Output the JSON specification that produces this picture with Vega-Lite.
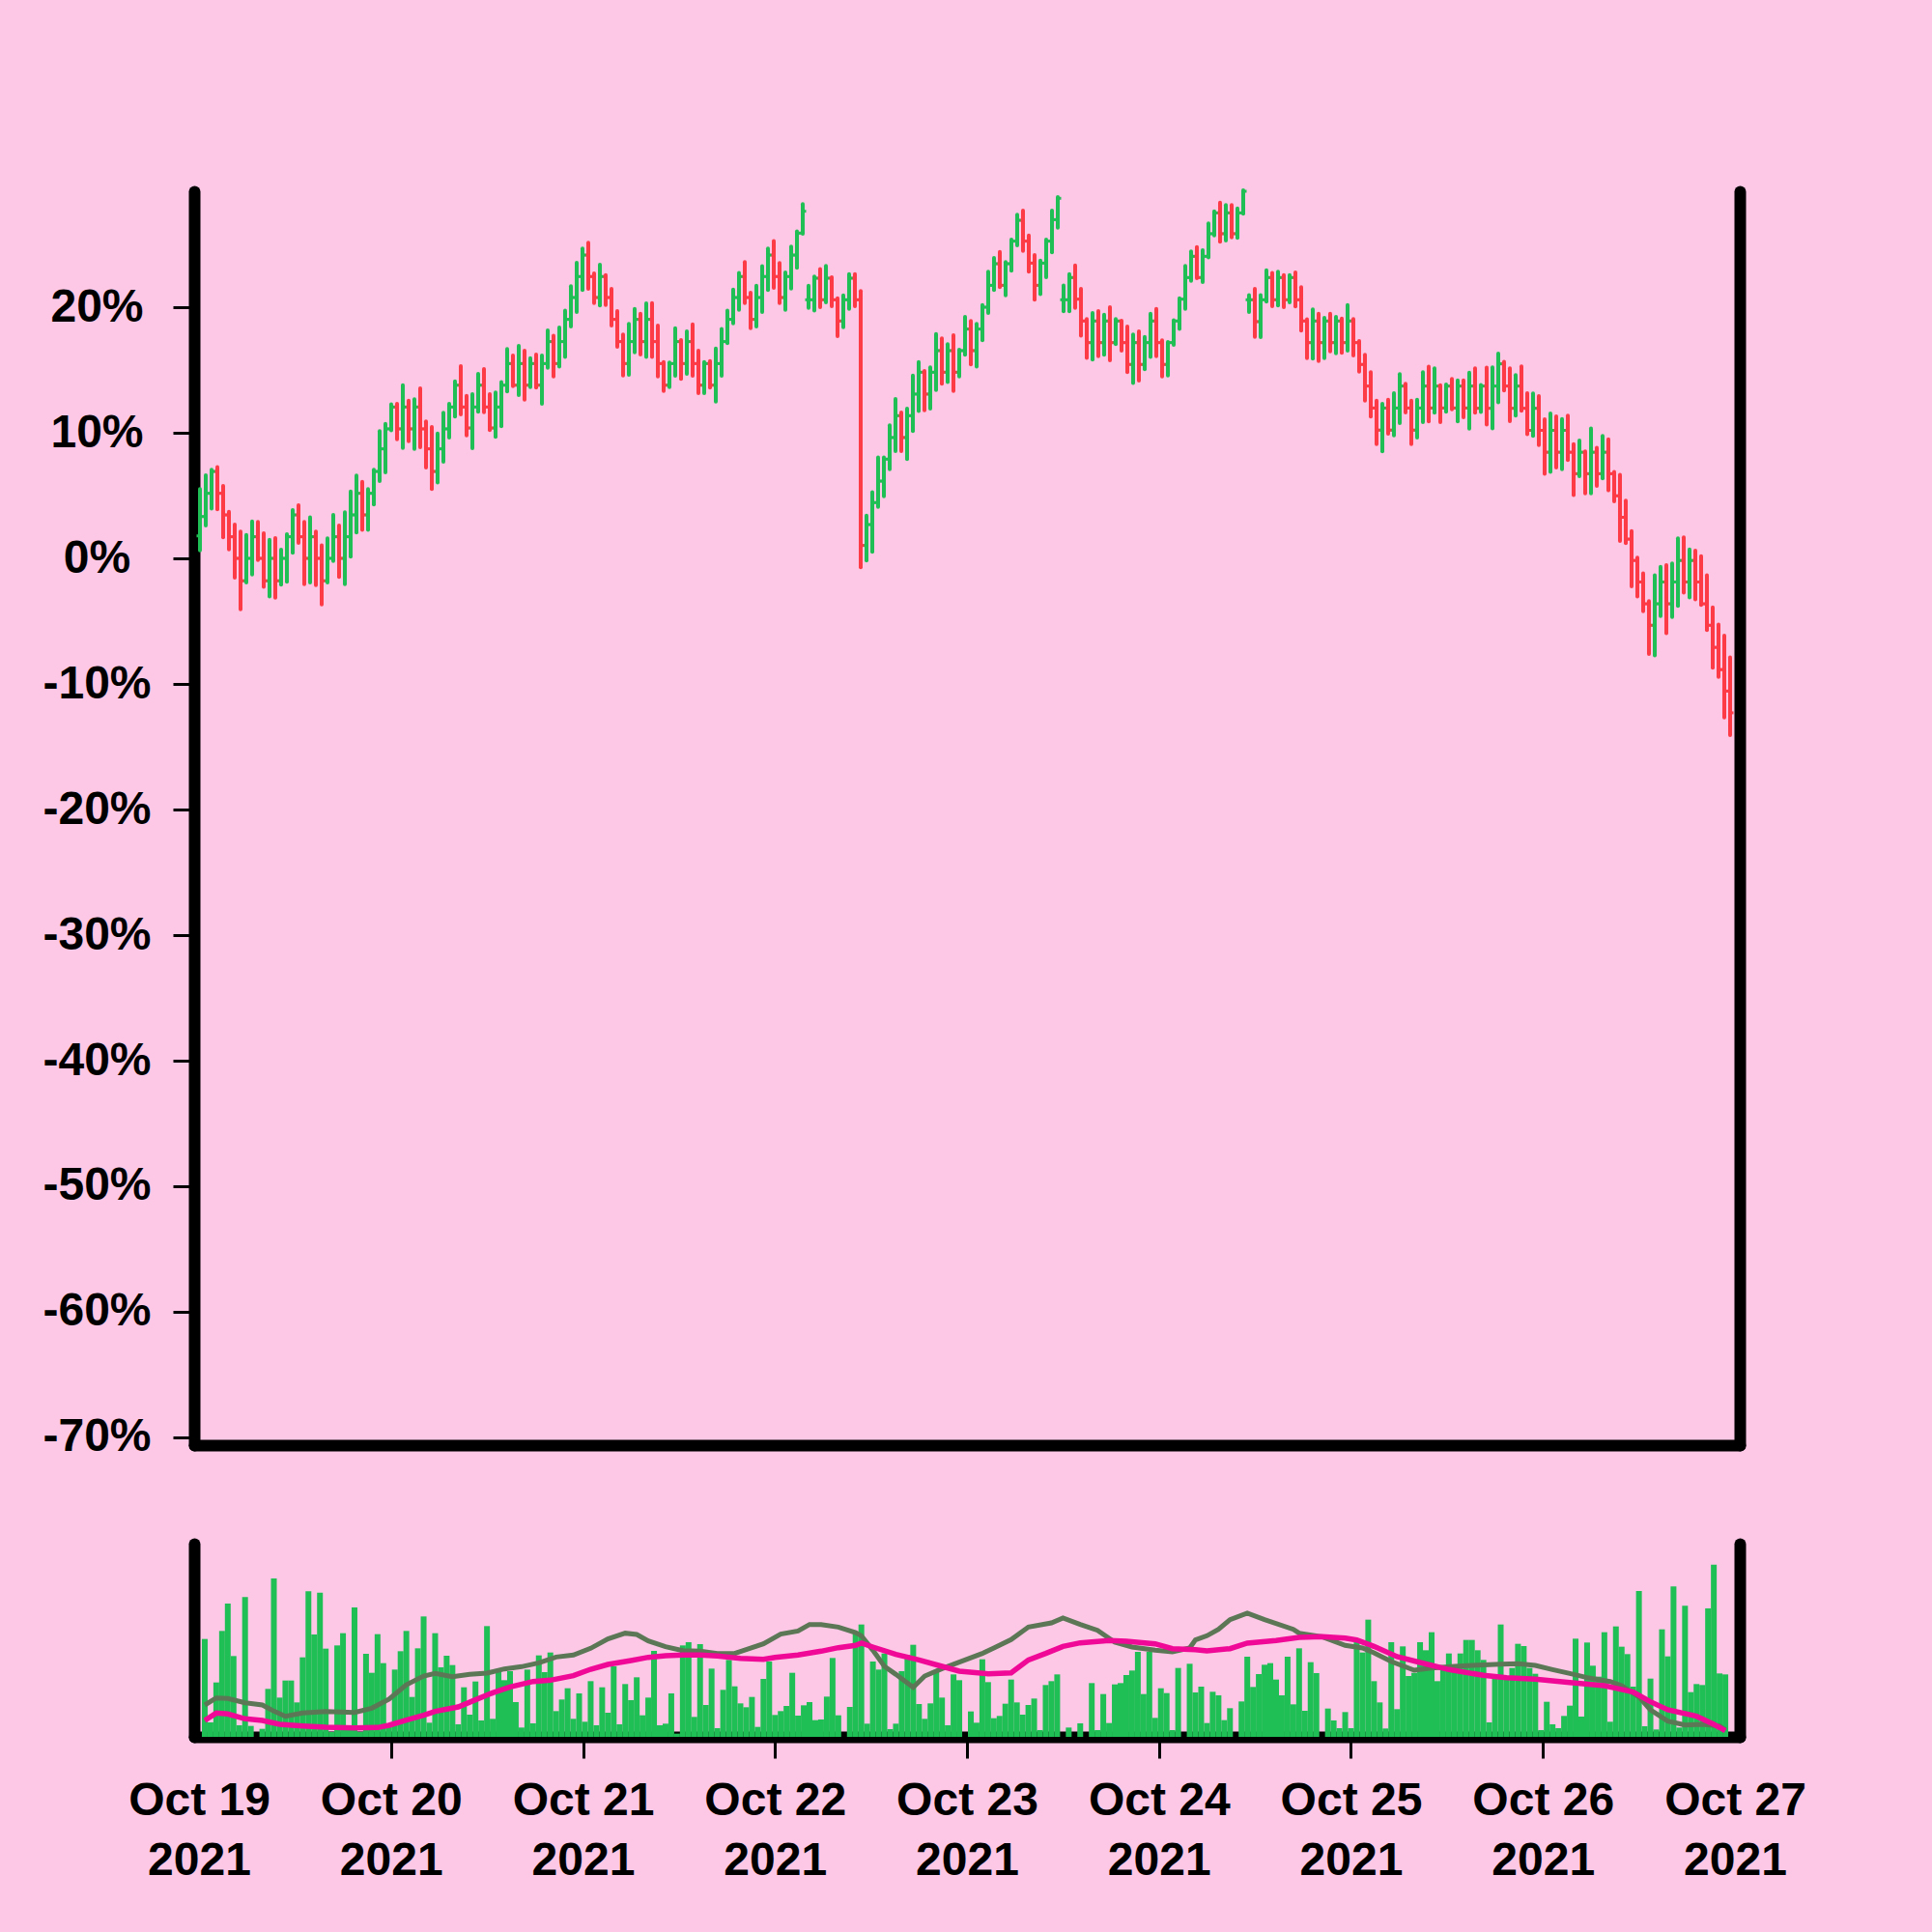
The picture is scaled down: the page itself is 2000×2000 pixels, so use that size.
{
"$schema": "https://vega.github.io/schema/vega-lite/v6.json",
"background": "#fcc8e6",
"padding": {"left": 43, "top": 194, "right": 131, "bottom": 52},
"bounds": "flush",
"spacing": 102,
"config": {
  "view": {"stroke": null},
  "font": "Liberation Sans",
  "axis": {"domainColor": "#000000", "domainWidth": 12, "domainCap": "round", "grid": false, "labelFont": "Liberation Sans", "labelFontWeight": "bold", "labelFontSize": 48, "labelColor": "#000000", "tickColor": "#000000", "tickWidth": 3, "tickSize": 22, "zindex": 1}
},
"datasets": {
"ohlc": [
{"i":1,"open":1.79,"high":5.51,"low":0.64,"close":3.33,"volume":304},
{"i":2,"open":3.33,"high":6.62,"low":2.62,"close":5.18,"volume":45},
{"i":3,"open":5.18,"high":7.05,"low":3.97,"close":6.92,"volume":169},
{"i":4,"open":6.92,"high":7.26,"low":3.9,"close":5.18,"volume":329},
{"i":5,"open":5.18,"high":5.77,"low":1.67,"close":3.46,"volume":414},
{"i":6,"open":3.46,"high":3.72,"low":0.72,"close":1.72,"volume":251},
{"i":7,"open":1.72,"high":2.69,"low":-1.54,"close":0,"volume":36},
{"i":8,"open":0,"high":2.13,"low":-4.05,"close":-1.79,"volume":434},
{"i":9,"open":-1.79,"high":1.87,"low":-1.92,"close":0,"volume":34},
{"i":10,"open":0,"high":2.95,"low":-1.28,"close":1.72,"volume":0},
{"i":11,"open":1.72,"high":2.9,"low":-0.13,"close":0,"volume":25},
{"i":12,"open":0,"high":2.0,"low":-2.26,"close":-1.79,"volume":149},
{"i":13,"open":-1.79,"high":1.49,"low":-3.03,"close":0,"volume":492},
{"i":14,"open":0,"high":1.62,"low":-3.13,"close":-1.79,"volume":122},
{"i":15,"open":-1.79,"high":0.69,"low":-2.1,"close":0,"volume":175},
{"i":16,"open":0,"high":1.92,"low":-1.87,"close":1.72,"volume":175},
{"i":17,"open":1.72,"high":3.85,"low":0.44,"close":3.46,"volume":107},
{"i":18,"open":3.46,"high":4.23,"low":1.23,"close":1.72,"volume":247},
{"i":19,"open":1.72,"high":2.9,"low":-2.05,"close":0,"volume":452},
{"i":20,"open":0,"high":3.26,"low":-1.92,"close":1.72,"volume":318},
{"i":21,"open":1.72,"high":2.13,"low":-2.13,"close":0,"volume":448},
{"i":22,"open":0,"high":1.03,"low":-3.67,"close":-1.79,"volume":274},
{"i":23,"open":-1.79,"high":1.59,"low":-1.92,"close":0,"volume":15},
{"i":24,"open":0,"high":3.46,"low":-0.21,"close":1.72,"volume":284},
{"i":25,"open":1.72,"high":2.62,"low":-1.49,"close":0,"volume":322},
{"i":26,"open":0,"high":3.67,"low":-2.05,"close":1.72,"volume":34},
{"i":27,"open":1.72,"high":5.33,"low":0.13,"close":3.46,"volume":402},
{"i":28,"open":3.46,"high":6.59,"low":2.05,"close":5.18,"volume":15},
{"i":29,"open":5.18,"high":6.1,"low":2.26,"close":3.46,"volume":258},
{"i":30,"open":3.46,"high":5.51,"low":2.26,"close":5.18,"volume":199},
{"i":31,"open":5.18,"high":7.05,"low":4.28,"close":6.92,"volume":319},
{"i":32,"open":6.92,"high":10.13,"low":6.15,"close":8.72,"volume":229},
{"i":33,"open":8.72,"high":10.72,"low":6.85,"close":10.31,"volume":39},
{"i":34,"open":10.31,"high":12.26,"low":10.2,"close":12.05,"volume":209},
{"i":35,"open":12.05,"high":12.31,"low":9.49,"close":10.31,"volume":266},
{"i":36,"open":10.31,"high":13.79,"low":8.79,"close":12.05,"volume":329},
{"i":37,"open":12.05,"high":12.56,"low":9.33,"close":10.31,"volume":124},
{"i":38,"open":10.31,"high":12.67,"low":8.72,"close":12.05,"volume":275},
{"i":39,"open":12.05,"high":13.54,"low":8.85,"close":10.31,"volume":374},
{"i":40,"open":10.31,"high":10.9,"low":7.23,"close":8.72,"volume":44},
{"i":41,"open":8.72,"high":10.46,"low":5.51,"close":6.92,"volume":322},
{"i":42,"open":6.92,"high":9.95,"low":6.03,"close":8.72,"volume":216},
{"i":43,"open":8.72,"high":11.59,"low":7.69,"close":10.31,"volume":252},
{"i":44,"open":10.31,"high":12.31,"low":9.62,"close":12.05,"volume":223},
{"i":45,"open":12.05,"high":14.1,"low":11.28,"close":13.79,"volume":39},
{"i":46,"open":13.79,"high":15.31,"low":11.46,"close":12.05,"volume":154},
{"i":47,"open":12.05,"high":12.95,"low":9.79,"close":10.38,"volume":69},
{"i":48,"open":10.38,"high":13.08,"low":8.77,"close":12.05,"volume":172},
{"i":49,"open":12.05,"high":14.69,"low":11.67,"close":13.79,"volume":51},
{"i":50,"open":13.79,"high":15.08,"low":11.64,"close":12.05,"volume":344},
{"i":51,"open":12.05,"high":13.08,"low":10.21,"close":10.38,"volume":56},
{"i":52,"open":10.38,"high":13.21,"low":9.67,"close":12.05,"volume":203},
{"i":53,"open":12.05,"high":14.03,"low":10.51,"close":13.79,"volume":176},
{"i":54,"open":13.79,"high":16.67,"low":13.28,"close":15.51,"volume":204},
{"i":55,"open":15.51,"high":16.15,"low":13.72,"close":13.79,"volume":108},
{"i":56,"open":13.79,"high":16.92,"low":13.0,"close":15.51,"volume":29},
{"i":57,"open":15.51,"high":16.54,"low":12.64,"close":13.79,"volume":209},
{"i":58,"open":13.79,"high":15.95,"low":13.64,"close":15.51,"volume":42},
{"i":59,"open":15.51,"high":16.23,"low":13.59,"close":13.79,"volume":253},
{"i":60,"open":13.79,"high":16.15,"low":12.31,"close":15.51,"volume":201},
{"i":61,"open":15.51,"high":18.15,"low":15.18,"close":17.26,"volume":262},
{"i":62,"open":17.26,"high":17.74,"low":14.49,"close":15.51,"volume":80},
{"i":63,"open":15.51,"high":18.38,"low":15.26,"close":17.26,"volume":116},
{"i":64,"open":17.26,"high":19.74,"low":16.03,"close":19.03,"volume":151},
{"i":65,"open":19.03,"high":21.67,"low":18.46,"close":20.77,"volume":56},
{"i":66,"open":20.77,"high":23.54,"low":19.62,"close":22.44,"volume":135},
{"i":67,"open":22.44,"high":24.67,"low":21.36,"close":24.15,"volume":47},
{"i":68,"open":24.15,"high":25.13,"low":21.46,"close":22.44,"volume":173},
{"i":69,"open":22.44,"high":22.69,"low":20.33,"close":20.77,"volume":36},
{"i":70,"open":20.77,"high":23.38,"low":20.13,"close":22.44,"volume":154},
{"i":71,"open":22.44,"high":22.56,"low":20.18,"close":20.77,"volume":75},
{"i":72,"open":20.77,"high":21.46,"low":18.54,"close":19.03,"volume":219},
{"i":73,"open":19.03,"high":19.69,"low":16.85,"close":17.26,"volume":39},
{"i":74,"open":17.26,"high":17.82,"low":14.56,"close":15.51,"volume":164},
{"i":75,"open":15.51,"high":18.67,"low":14.62,"close":17.26,"volume":114},
{"i":76,"open":17.26,"high":19.87,"low":16.41,"close":19.03,"volume":185},
{"i":77,"open":19.03,"high":19.49,"low":16.23,"close":17.26,"volume":67},
{"i":78,"open":17.26,"high":20.31,"low":16.03,"close":19.03,"volume":122},
{"i":79,"open":19.03,"high":20.33,"low":16.03,"close":17.26,"volume":267},
{"i":80,"open":17.26,"high":18.54,"low":14.49,"close":15.51,"volume":36},
{"i":81,"open":15.51,"high":15.64,"low":13.33,"close":13.79,"volume":41},
{"i":82,"open":13.79,"high":15.59,"low":13.64,"close":15.51,"volume":135},
{"i":83,"open":15.51,"high":18.33,"low":14.54,"close":17.26,"volume":10},
{"i":84,"open":17.26,"high":17.38,"low":14.28,"close":15.51,"volume":284},
{"i":85,"open":15.51,"high":18.08,"low":14.69,"close":17.26,"volume":294},
{"i":86,"open":17.26,"high":18.64,"low":14.54,"close":15.51,"volume":62},
{"i":87,"open":15.51,"high":16.54,"low":13.15,"close":13.79,"volume":288},
{"i":88,"open":13.79,"high":15.64,"low":13.15,"close":15.51,"volume":99},
{"i":89,"open":15.51,"high":15.72,"low":13.59,"close":13.79,"volume":212},
{"i":90,"open":13.79,"high":16.72,"low":12.49,"close":15.51,"volume":27},
{"i":91,"open":15.51,"high":18.26,"low":14.54,"close":17.26,"volume":146},
{"i":92,"open":17.26,"high":19.74,"low":17.13,"close":19.03,"volume":239},
{"i":93,"open":19.03,"high":21.41,"low":18.72,"close":20.77,"volume":157},
{"i":94,"open":20.77,"high":22.74,"low":19.79,"close":22.44,"volume":104},
{"i":95,"open":22.44,"high":23.59,"low":20.33,"close":20.77,"volume":92},
{"i":96,"open":20.77,"high":21.15,"low":18.33,"close":19.03,"volume":124},
{"i":97,"open":19.03,"high":21.72,"low":18.46,"close":20.77,"volume":31},
{"i":98,"open":20.77,"high":23.26,"low":19.62,"close":22.44,"volume":180},
{"i":99,"open":22.44,"high":24.67,"low":21.36,"close":24.15,"volume":234},
{"i":100,"open":24.15,"high":25.26,"low":21.54,"close":22.44,"volume":68},
{"i":101,"open":22.44,"high":23.51,"low":20.33,"close":20.77,"volume":80},
{"i":102,"open":20.77,"high":22.77,"low":19.79,"close":22.44,"volume":96},
{"i":103,"open":22.44,"high":24.82,"low":21.49,"close":24.15,"volume":199},
{"i":104,"open":24.15,"high":26.03,"low":23.13,"close":25.9,"volume":66},
{"i":105,"open":25.9,"high":28.21,"low":25.85,"close":27.64,"volume":98},
{"i":106,"open":20.59,"high":21.72,"low":19.95,"close":20.59,"volume":108},
{"i":107,"open":20.59,"high":22.44,"low":19.74,"close":22.31,"volume":52},
{"i":108,"open":22.31,"high":23.03,"low":20.0,"close":20.59,"volume":54},
{"i":109,"open":20.59,"high":23.28,"low":20.38,"close":22.31,"volume":125},
{"i":110,"open":22.31,"high":22.38,"low":20.08,"close":20.59,"volume":245},
{"i":111,"open":20.59,"high":20.72,"low":17.69,"close":18.9,"volume":67},
{"i":112,"open":18.9,"high":20.95,"low":18.41,"close":20.59,"volume":0},
{"i":113,"open":20.59,"high":22.64,"low":19.87,"close":22.31,"volume":93},
{"i":114,"open":22.31,"high":22.64,"low":20.08,"close":20.59,"volume":319},
{"i":115,"open":20.59,"high":21.28,"low":-0.72,"close":1.03,"volume":349},
{"i":116,"open":1.03,"high":3.41,"low":-0.18,"close":2.69,"volume":41},
{"i":117,"open":2.69,"high":5.26,"low":0.51,"close":4.44,"volume":234},
{"i":118,"open":4.44,"high":8.03,"low":4.1,"close":6.15,"volume":209},
{"i":119,"open":6.15,"high":8.03,"low":4.95,"close":7.9,"volume":259},
{"i":120,"open":7.9,"high":10.59,"low":7.1,"close":9.62,"volume":24},
{"i":121,"open":9.62,"high":12.69,"low":8.54,"close":11.36,"volume":41},
{"i":122,"open":11.36,"high":11.62,"low":8.54,"close":9.62,"volume":204},
{"i":123,"open":9.62,"high":11.92,"low":7.9,"close":11.36,"volume":254},
{"i":124,"open":11.36,"high":14.56,"low":10.13,"close":13.08,"volume":286},
{"i":125,"open":13.08,"high":15.64,"low":11.74,"close":14.82,"volume":102},
{"i":126,"open":14.82,"high":14.92,"low":11.79,"close":13.08,"volume":56},
{"i":127,"open":13.08,"high":15.21,"low":11.92,"close":14.82,"volume":104},
{"i":128,"open":14.82,"high":17.87,"low":13.41,"close":16.54,"volume":204},
{"i":129,"open":16.54,"high":17.51,"low":13.9,"close":14.82,"volume":122},
{"i":130,"open":14.82,"high":17.05,"low":14.03,"close":16.54,"volume":36},
{"i":131,"open":16.54,"high":17.77,"low":13.33,"close":14.82,"volume":194},
{"i":132,"open":14.82,"high":16.62,"low":14.49,"close":16.54,"volume":176},
{"i":133,"open":16.54,"high":19.23,"low":16.21,"close":18.26,"volume":0},
{"i":134,"open":18.26,"high":18.9,"low":15.44,"close":16.54,"volume":79},
{"i":135,"open":16.54,"high":18.67,"low":15.26,"close":18.26,"volume":44},
{"i":136,"open":18.26,"high":20.18,"low":17.36,"close":20.0,"volume":241},
{"i":137,"open":20.0,"high":22.82,"low":19.54,"close":21.74,"volume":170},
{"i":138,"open":21.74,"high":23.92,"low":21.36,"close":23.46,"volume":58},
{"i":139,"open":23.46,"high":24.41,"low":21.59,"close":21.74,"volume":65},
{"i":140,"open":21.74,"high":23.59,"low":20.95,"close":23.46,"volume":103},
{"i":141,"open":23.46,"high":25.38,"low":22.9,"close":25.26,"volume":178},
{"i":142,"open":25.26,"high":27.36,"low":24.92,"close":26.92,"volume":107},
{"i":143,"open":26.92,"high":27.69,"low":24.49,"close":25.26,"volume":69},
{"i":144,"open":25.26,"high":25.72,"low":22.82,"close":23.51,"volume":99},
{"i":145,"open":23.51,"high":24.15,"low":20.59,"close":21.74,"volume":119},
{"i":146,"open":21.74,"high":23.72,"low":21.03,"close":23.51,"volume":21},
{"i":147,"open":23.51,"high":25.38,"low":22.38,"close":25.26,"volume":161},
{"i":148,"open":25.26,"high":27.69,"low":24.36,"close":26.97,"volume":173},
{"i":149,"open":26.97,"high":28.77,"low":26.33,"close":28.67,"volume":194},
{"i":150,"open":20.59,"high":21.74,"low":19.67,"close":20.59,"volume":0},
{"i":151,"open":20.59,"high":22.64,"low":19.67,"close":22.36,"volume":29},
{"i":152,"open":22.36,"high":23.33,"low":19.95,"close":20.64,"volume":0},
{"i":153,"open":20.64,"high":21.46,"low":17.74,"close":18.9,"volume":42},
{"i":154,"open":18.9,"high":19.05,"low":15.97,"close":17.18,"volume":0},
{"i":155,"open":17.18,"high":19.54,"low":15.82,"close":18.9,"volume":167},
{"i":156,"open":18.9,"high":19.69,"low":16.1,"close":17.18,"volume":21},
{"i":157,"open":17.18,"high":19.41,"low":16.21,"close":18.9,"volume":133},
{"i":158,"open":18.9,"high":20.0,"low":15.77,"close":17.18,"volume":43},
{"i":159,"open":17.18,"high":19.05,"low":17.05,"close":18.9,"volume":163},
{"i":160,"open":18.9,"high":18.92,"low":16.54,"close":17.18,"volume":167},
{"i":161,"open":17.18,"high":18.46,"low":14.82,"close":15.44,"volume":192},
{"i":162,"open":15.44,"high":17.82,"low":13.97,"close":17.18,"volume":206},
{"i":163,"open":17.18,"high":18.08,"low":14.15,"close":15.44,"volume":264},
{"i":164,"open":15.44,"high":17.64,"low":15.05,"close":17.18,"volume":133},
{"i":165,"open":17.18,"high":19.49,"low":16.03,"close":18.9,"volume":264},
{"i":166,"open":18.9,"high":19.87,"low":16.1,"close":17.18,"volume":59},
{"i":167,"open":17.18,"high":17.36,"low":14.49,"close":15.44,"volume":151},
{"i":168,"open":15.44,"high":17.23,"low":14.56,"close":17.18,"volume":136},
{"i":169,"open":17.18,"high":18.97,"low":17.0,"close":18.9,"volume":21},
{"i":170,"open":18.9,"high":20.72,"low":18.26,"close":20.64,"volume":214},
{"i":171,"open":20.64,"high":23.28,"low":19.87,"close":22.36,"volume":0},
{"i":172,"open":22.36,"high":24.44,"low":22.1,"close":24.05,"volume":227},
{"i":173,"open":24.05,"high":24.79,"low":22.31,"close":22.36,"volume":138},
{"i":174,"open":22.36,"high":24.54,"low":22.0,"close":24.05,"volume":156},
{"i":175,"open":24.05,"high":26.67,"low":23.97,"close":25.85,"volume":43},
{"i":176,"open":25.85,"high":27.64,"low":25.72,"close":27.51,"volume":140},
{"i":177,"open":27.51,"high":28.33,"low":25.21,"close":25.85,"volume":129},
{"i":178,"open":25.85,"high":28.13,"low":25.31,"close":27.51,"volume":52},
{"i":179,"open":27.51,"high":28.13,"low":25.56,"close":25.85,"volume":89},
{"i":180,"open":25.85,"high":27.87,"low":25.51,"close":27.51,"volume":0},
{"i":181,"open":27.51,"high":29.31,"low":27.44,"close":29.23,"volume":110},
{"i":182,"open":20.59,"high":20.97,"low":19.62,"close":20.59,"volume":249},
{"i":183,"open":20.59,"high":21.46,"low":17.64,"close":18.85,"volume":155},
{"i":184,"open":18.85,"high":20.97,"low":17.62,"close":20.59,"volume":195},
{"i":185,"open":20.59,"high":22.95,"low":20.44,"close":22.36,"volume":224},
{"i":186,"open":22.36,"high":22.74,"low":20.08,"close":20.59,"volume":229},
{"i":187,"open":20.59,"high":22.82,"low":20.13,"close":22.36,"volume":178},
{"i":188,"open":22.36,"high":22.56,"low":20.0,"close":20.59,"volume":129},
{"i":189,"open":20.59,"high":22.56,"low":20.38,"close":22.36,"volume":249},
{"i":190,"open":22.36,"high":22.77,"low":20.05,"close":20.59,"volume":101},
{"i":191,"open":20.59,"high":21.59,"low":18.13,"close":18.9,"volume":275},
{"i":192,"open":18.9,"high":19.03,"low":15.95,"close":17.18,"volume":81},
{"i":193,"open":17.18,"high":19.82,"low":15.9,"close":18.9,"volume":232},
{"i":194,"open":18.9,"high":19.49,"low":15.72,"close":17.18,"volume":198},
{"i":195,"open":17.18,"high":19.15,"low":15.95,"close":18.9,"volume":0},
{"i":196,"open":18.9,"high":19.49,"low":16.49,"close":17.18,"volume":88},
{"i":197,"open":17.18,"high":19.23,"low":16.33,"close":18.9,"volume":51},
{"i":198,"open":18.9,"high":19.1,"low":16.36,"close":17.18,"volume":27},
{"i":199,"open":17.18,"high":20.18,"low":16.54,"close":18.9,"volume":77},
{"i":200,"open":18.9,"high":19.05,"low":16.15,"close":17.18,"volume":27},
{"i":201,"open":17.18,"high":17.31,"low":14.87,"close":15.44,"volume":304},
{"i":202,"open":15.44,"high":16.21,"low":12.56,"close":13.72,"volume":262},
{"i":203,"open":13.72,"high":14.82,"low":11.28,"close":11.97,"volume":364},
{"i":204,"open":11.97,"high":12.56,"low":9.1,"close":10.21,"volume":173},
{"i":205,"open":10.21,"high":12.31,"low":8.51,"close":11.97,"volume":107},
{"i":206,"open":11.97,"high":12.64,"low":9.92,"close":10.21,"volume":26},
{"i":207,"open":10.21,"high":13.15,"low":9.79,"close":11.97,"volume":294},
{"i":208,"open":11.97,"high":14.67,"low":10.77,"close":13.72,"volume":86},
{"i":209,"open":13.72,"high":13.9,"low":11.62,"close":11.97,"volume":281},
{"i":210,"open":11.97,"high":12.56,"low":9.1,"close":10.21,"volume":189},
{"i":211,"open":10.21,"high":12.64,"low":9.62,"close":11.97,"volume":199},
{"i":212,"open":11.97,"high":14.82,"low":10.85,"close":13.72,"volume":294},
{"i":213,"open":13.72,"high":15.26,"low":10.9,"close":11.97,"volume":269},
{"i":214,"open":11.97,"high":15.13,"low":11.59,"close":13.72,"volume":325},
{"i":215,"open":13.72,"high":13.79,"low":10.85,"close":11.97,"volume":173},
{"i":216,"open":11.97,"high":13.85,"low":11.67,"close":13.72,"volume":219},
{"i":217,"open":13.72,"high":14.28,"low":11.87,"close":11.97,"volume":259},
{"i":218,"open":11.97,"high":14.18,"low":10.9,"close":13.72,"volume":209},
{"i":219,"open":13.72,"high":14.18,"low":11.23,"close":11.97,"volume":259},
{"i":220,"open":11.97,"high":14.79,"low":10.33,"close":13.72,"volume":301},
{"i":221,"open":13.72,"high":15.13,"low":11.6,"close":11.95,"volume":301},
{"i":222,"open":11.95,"high":13.81,"low":11.66,"close":13.72,"volume":269},
{"i":223,"open":13.72,"high":15.19,"low":10.66,"close":11.95,"volume":239},
{"i":224,"open":11.95,"high":15.22,"low":10.34,"close":13.72,"volume":45},
{"i":225,"open":13.72,"high":16.31,"low":12.43,"close":15.49,"volume":189},
{"i":226,"open":15.49,"high":15.66,"low":13.37,"close":13.72,"volume":349},
{"i":227,"open":13.72,"high":15.13,"low":10.92,"close":11.95,"volume":189},
{"i":228,"open":11.95,"high":14.6,"low":11.37,"close":13.72,"volume":214},
{"i":229,"open":13.72,"high":15.28,"low":11.75,"close":11.95,"volume":289},
{"i":230,"open":11.95,"high":13.16,"low":9.89,"close":10.19,"volume":282},
{"i":231,"open":10.19,"high":13.13,"low":9.75,"close":11.95,"volume":214},
{"i":232,"open":11.95,"high":12.93,"low":9.01,"close":10.19,"volume":196},
{"i":233,"open":10.19,"high":11.07,"low":6.74,"close":8.45,"volume":21},
{"i":234,"open":8.45,"high":11.54,"low":6.89,"close":10.19,"volume":109},
{"i":235,"open":10.19,"high":11.31,"low":7.24,"close":8.45,"volume":39},
{"i":236,"open":8.45,"high":11.1,"low":7.1,"close":10.19,"volume":27},
{"i":237,"open":10.19,"high":11.37,"low":7.83,"close":8.45,"volume":65},
{"i":238,"open":8.45,"high":9.1,"low":5.04,"close":6.74,"volume":97},
{"i":239,"open":6.74,"high":9.39,"low":6.54,"close":8.45,"volume":305},
{"i":240,"open":8.45,"high":8.51,"low":5.18,"close":6.74,"volume":63},
{"i":241,"open":6.74,"high":10.34,"low":5.18,"close":8.45,"volume":293},
{"i":242,"open":8.45,"high":8.8,"low":5.77,"close":6.74,"volume":221},
{"i":243,"open":6.74,"high":9.75,"low":6.36,"close":8.45,"volume":187},
{"i":244,"open":8.45,"high":9.48,"low":5.42,"close":6.74,"volume":325},
{"i":245,"open":6.74,"high":6.89,"low":4.54,"close":4.98,"volume":47},
{"i":246,"open":4.98,"high":6.66,"low":1.39,"close":3.27,"volume":343},
{"i":247,"open":3.27,"high":4.6,"low":1.21,"close":1.53,"volume":280},
{"i":248,"open":1.53,"high":2.18,"low":-2.23,"close":-0.17,"volume":257},
{"i":249,"open":-0.17,"high":0.06,"low":-3.03,"close":-1.88,"volume":156},
{"i":250,"open":-1.88,"high":-1.2,"low":-4.21,"close":-3.62,"volume":453},
{"i":251,"open":-3.62,"high":-3.41,"low":-7.62,"close":-5.33,"volume":33},
{"i":252,"open":-5.33,"high":-1.35,"low":-7.74,"close":-3.62,"volume":181},
{"i":253,"open":-3.62,"high":-0.67,"low":-4.59,"close":-1.88,"volume":23},
{"i":254,"open":-1.88,"high":-0.53,"low":-5.97,"close":-3.62,"volume":334},
{"i":255,"open":-3.62,"high":-0.41,"low":-4.68,"close":-1.88,"volume":250},
{"i":256,"open":-1.88,"high":1.59,"low":-3.79,"close":-0.17,"volume":467},
{"i":257,"open":-0.17,"high":1.68,"low":-2.74,"close":-1.88,"volume":29},
{"i":258,"open":-1.88,"high":0.71,"low":-3.12,"close":-0.17,"volume":407},
{"i":259,"open":-0.17,"high":0.62,"low":-3.26,"close":-1.88,"volume":139},
{"i":260,"open":-1.88,"high":0.18,"low":-3.71,"close":-3.62,"volume":164},
{"i":261,"open":-3.62,"high":-1.35,"low":-5.71,"close":-5.33,"volume":161},
{"i":262,"open":-5.33,"high":-3.91,"low":-8.71,"close":-7.09,"volume":399},
{"i":263,"open":-7.09,"high":-5.27,"low":-9.45,"close":-8.86,"volume":535},
{"i":264,"open":-8.86,"high":-6.15,"low":-12.68,"close":-10.57,"volume":197},
{"i":265,"open":-10.57,"high":-7.89,"low":-14.07,"close":-12.3,"volume":194}
],
"fast": [
{"i":1,"ma":99},{"i":3,"ma":121},{"i":5,"ma":119},{"i":8,"ma":106},{"i":11,"ma":99},{"i":13,"ma":80},{"i":15,"ma":64},{"i":18,"ma":74},{"i":22,"ma":79},{"i":27,"ma":76},{"i":30,"ma":89},{"i":33,"ma":117},{"i":36,"ma":162},{"i":39,"ma":189},{"i":41,"ma":197},{"i":44,"ma":187},{"i":47,"ma":194},{"i":50,"ma":198},{"i":53,"ma":211},{"i":56,"ma":218},{"i":59,"ma":230},{"i":62,"ma":248},{"i":65,"ma":254},{"i":68,"ma":275},{"i":71,"ma":304},{"i":74,"ma":322},{"i":76,"ma":318},{"i":78,"ma":298},{"i":81,"ma":280},{"i":84,"ma":268},{"i":87,"ma":266},{"i":90,"ma":259},{"i":93,"ma":259},{"i":98,"ma":289},{"i":101,"ma":319},{"i":104,"ma":329},{"i":106,"ma":349},{"i":108,"ma":349},{"i":111,"ma":341},{"i":114,"ma":324},{"i":115,"ma":314},{"i":117,"ma":269},{"i":119,"ma":219},{"i":121,"ma":194},{"i":124,"ma":154},{"i":126,"ma":189},{"i":129,"ma":212},{"i":133,"ma":239},{"i":136,"ma":259},{"i":138,"ma":276},{"i":141,"ma":302},{"i":144,"ma":341},{"i":148,"ma":354},{"i":150,"ma":369},{"i":153,"ma":349},{"i":156,"ma":331},{"i":159,"ma":294},{"i":162,"ma":279},{"i":166,"ma":269},{"i":169,"ma":264},{"i":172,"ma":276},{"i":173,"ma":301},{"i":175,"ma":314},{"i":177,"ma":334},{"i":179,"ma":364},{"i":182,"ma":384},{"i":185,"ma":364},{"i":190,"ma":334},{"i":191,"ma":322},{"i":195,"ma":311},{"i":199,"ma":284},{"i":202,"ma":276},{"i":204,"ma":261},{"i":207,"ma":234},{"i":211,"ma":207},{"i":214,"ma":214},{"i":218,"ma":219},{"i":221,"ma":222},{"i":226,"ma":226},{"i":229,"ma":227},{"i":232,"ma":222},{"i":235,"ma":209},{"i":238,"ma":197},{"i":241,"ma":184},{"i":245,"ma":172},{"i":247,"ma":159},{"i":250,"ma":124},{"i":252,"ma":84},{"i":255,"ma":49},{"i":258,"ma":37},{"i":261,"ma":39},{"i":264,"ma":34},{"i":265,"ma":21}
],
"slow": [
{"i":1,"ma":51},{"i":3,"ma":74},{"i":5,"ma":71},{"i":8,"ma":56},{"i":11,"ma":51},{"i":14,"ma":39},{"i":18,"ma":34},{"i":22,"ma":30},{"i":27,"ma":28},{"i":31,"ma":29},{"i":33,"ma":36},{"i":36,"ma":52},{"i":39,"ma":67},{"i":41,"ma":79},{"i":45,"ma":93},{"i":48,"ma":115},{"i":51,"ma":137},{"i":54,"ma":155},{"i":58,"ma":172},{"i":61,"ma":176},{"i":65,"ma":190},{"i":68,"ma":210},{"i":71,"ma":225},{"i":75,"ma":237},{"i":78,"ma":247},{"i":81,"ma":252},{"i":84,"ma":254},{"i":87,"ma":254},{"i":90,"ma":251},{"i":94,"ma":244},{"i":98,"ma":241},{"i":100,"ma":247},{"i":104,"ma":254},{"i":108,"ma":266},{"i":111,"ma":277},{"i":114,"ma":284},{"i":115,"ma":291},{"i":117,"ma":279},{"i":121,"ma":256},{"i":125,"ma":239},{"i":129,"ma":219},{"i":132,"ma":204},{"i":137,"ma":196},{"i":141,"ma":199},{"i":144,"ma":239},{"i":147,"ma":259},{"i":150,"ma":281},{"i":153,"ma":292},{"i":158,"ma":299},{"i":161,"ma":297},{"i":166,"ma":289},{"i":169,"ma":274},{"i":173,"ma":271},{"i":175,"ma":267},{"i":179,"ma":274},{"i":182,"ma":291},{"i":187,"ma":299},{"i":191,"ma":309},{"i":195,"ma":311},{"i":199,"ma":307},{"i":201,"ma":301},{"i":204,"ma":281},{"i":208,"ma":249},{"i":212,"ma":231},{"i":217,"ma":209},{"i":223,"ma":191},{"i":227,"ma":184},{"i":232,"ma":179},{"i":238,"ma":169},{"i":244,"ma":159},{"i":246,"ma":151},{"i":249,"ma":139},{"i":252,"ma":109},{"i":255,"ma":84},{"i":260,"ma":64},{"i":263,"ma":39},{"i":265,"ma":19}
]
},
"vconcat": [
{
  "width": 1600, "height": 1298,
  "data": {"name": "ohlc"},
  "encoding": {"x": {"field": "i", "type": "quantitative", "scale": {"domain": [0, 266.6667], "nice": false, "zero": false}, "axis": {"orient": "bottom", "title": null, "labels": false, "ticks": false}}},
  "layer": [
    {"mark": {"type": "rule", "strokeWidth": 4, "strokeCap": "round"},
     "encoding": {
       "y": {"field": "low", "type": "quantitative", "scale": {"domain": [-70.6154, 29.2308], "nice": false, "zero": false}, "axis": {"orient": "left", "title": null, "values": [20, 10, 0, -10, -20, -30, -40, -50, -60, -70], "labelExpr": "datum.value + '%'", "labelAlign": "center", "labelBaseline": "middle", "labelPadding": 79}},
       "y2": {"field": "high"},
       "color": {"condition": {"test": "datum.close >= datum.open", "value": "#20bf55"}, "value": "#fc3b47"}}},
    {"mark": {"type": "tick", "orient": "horizontal", "size": 3.5, "thickness": 3, "xOffset": -1.75, "opacity": 1},
     "encoding": {
       "y": {"field": "open", "type": "quantitative", "axis": {"orient": "right", "title": null, "labels": false, "ticks": false}},
       "color": {"condition": {"test": "datum.close >= datum.open", "value": "#20bf55"}, "value": "#fc3b47"}}},
    {"mark": {"type": "tick", "orient": "horizontal", "size": 3.5, "thickness": 3, "xOffset": 1.75, "opacity": 1},
     "encoding": {
       "y": {"field": "close", "type": "quantitative", "axis": null},
       "color": {"condition": {"test": "datum.close >= datum.open", "value": "#20bf55"}, "value": "#fc3b47"}}}
  ],
  "resolve": {"axis": {"y": "independent"}}
},
{
  "width": 1600, "height": 200,
  "encoding": {"x": {"field": "i", "type": "quantitative", "scale": {"domain": [0, 266.6667], "nice": false, "zero": false},
    "axis": {"orient": "bottom", "title": null, "values": [0, 33.3333, 66.6667, 100, 133.3333, 166.6667, 200, 233.3333, 266.6667],
      "labelExpr": "['Oct ' + (19 + round(datum.value / 33.3333)), '2021']",
      "labelPadding": 20, "labelLineHeight": 62, "labelFlush": false, "labelOverlap": false, "labelBound": false,
      "tickOpacity": {"condition": {"test": "datum.value < 1 || datum.value > 266", "value": 0}, "value": 1}}}},
  "layer": [
    {"data": {"name": "ohlc"}, "mark": {"type": "bar", "orient": "vertical", "size": 6, "color": "#20bf55"},
     "encoding": {"y": {"field": "volume", "type": "quantitative", "scale": {"domain": [0, 600], "nice": false, "zero": true}, "axis": {"orient": "left", "title": null, "labels": false, "ticks": false}}}},
    {"data": {"name": "fast"}, "mark": {"type": "line", "color": "#5c7756", "strokeWidth": 5},
     "encoding": {"y": {"field": "ma", "type": "quantitative", "axis": {"orient": "right", "title": null, "labels": false, "ticks": false}}}},
    {"data": {"name": "slow"}, "mark": {"type": "line", "color": "#f00896", "strokeWidth": 5.5},
     "encoding": {"y": {"field": "ma", "type": "quantitative", "axis": null}}}
  ],
  "resolve": {"axis": {"y": "independent"}}
}
]
}
